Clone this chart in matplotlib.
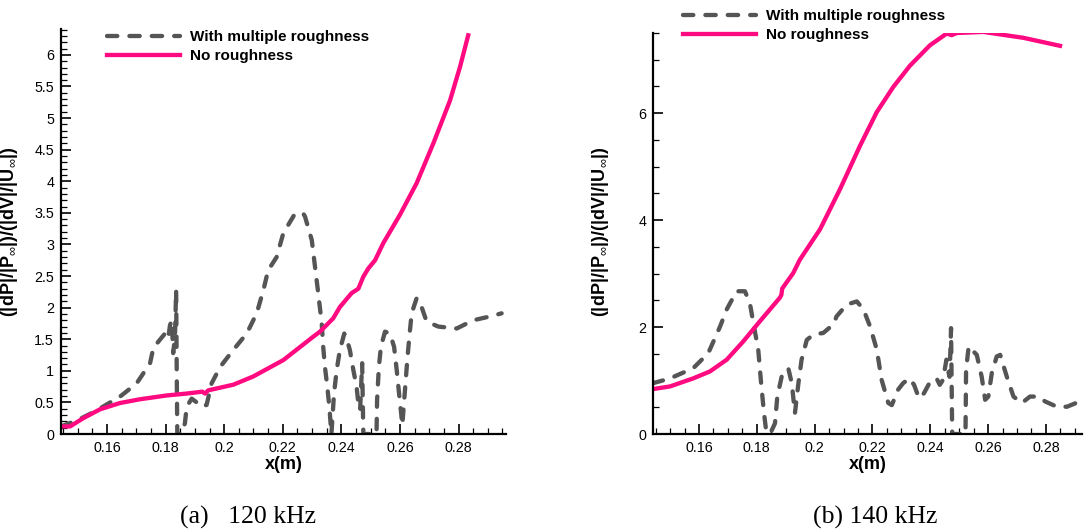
import matplotlib
matplotlib.use("Agg")
import matplotlib.pyplot as plt
from matplotlib.ticker import MultipleLocator, FormatStrFormatter

plt.rcParams['font.family'] = ['Liberation Sans', 'DejaVu Sans']
plt.rcParams['mathtext.fontset'] = 'custom'
plt.rcParams['mathtext.rm'] = 'Liberation Sans'
plt.rcParams['mathtext.bf'] = 'Liberation Sans:bold'

# ---------------- data: (a) 120 kHz ----------------
a_rough_x = [0.1443, 0.1500, 0.1560, 0.1600, 0.1644, 0.1701, 0.1747, 0.1758, 0.1775,
             0.1798, 0.1809, 0.1815, 0.1821, 0.1826, 0.1832, 0.1836, 0.1838, 0.1840,
             0.1855, 0.1866, 0.1872, 0.1889, 0.1912, 0.1923, 0.1940, 0.1957, 0.1986,
             0.2031, 0.2077, 0.2111, 0.2134, 0.2150, 0.2179, 0.2202, 0.2242, 0.2270,
             0.2276, 0.2299, 0.2310, 0.2321, 0.2333, 0.2338, 0.2344, 0.2352, 0.2359,
             0.2364, 0.2366, 0.2375, 0.2384, 0.2395, 0.2410, 0.2418, 0.2429, 0.2441,
             0.2452, 0.2458, 0.2464, 0.2471, 0.2475, 0.2520, 0.2522, 0.2528, 0.2535,
             0.2549, 0.2566, 0.2580, 0.2589, 0.2597, 0.2604, 0.2608, 0.2625, 0.2632,
             0.2640, 0.2657, 0.2674, 0.2691, 0.2731, 0.2794, 0.2850, 0.2907, 0.2947]
a_rough_y = [0.12, 0.22, 0.36, 0.47, 0.59, 0.80, 1.12, 1.36, 1.46,
             1.59, 1.51, 1.72, 1.80, 1.28, 1.54, 2.28, 1.01, 0.00,
             0.00, 0.17, 0.43, 0.56, 0.48, 0.43, 0.46, 0.80, 1.06,
             1.33, 1.59, 1.91, 2.28, 2.59, 2.80, 3.18, 3.49, 3.49,
             3.44, 3.07, 2.65, 2.23, 1.75, 1.38, 1.06, 0.75, 0.43,
             0.12, 0.00, 0.64, 1.01, 1.33, 1.59, 1.51, 1.33, 1.01,
             0.75, 0.48, 0.38, 1.12, 0.00, 0.00, 0.54, 1.06, 1.38,
             1.62, 1.59, 1.38, 1.01, 0.64, 0.33, 0.14, 1.17, 1.54,
             1.91, 2.15, 2.01, 1.78, 1.70, 1.67, 1.80, 1.86, 1.91]

a_smooth_x = [0.1443, 0.1474, 0.1519, 0.1576, 0.1644, 0.1713, 0.1804, 0.1872, 0.1925,
              0.1935, 0.1945, 0.2031, 0.2099, 0.2202, 0.2304, 0.2327, 0.2372, 0.2395,
              0.2435, 0.2458, 0.2475, 0.2492, 0.2515, 0.2543, 0.2600, 0.2657, 0.2714,
              0.2771, 0.2805, 0.2833]
a_smooth_y = [0.12, 0.12, 0.25, 0.39, 0.49, 0.55, 0.61, 0.64, 0.67,
              0.64, 0.69, 0.78, 0.91, 1.17, 1.54, 1.62, 1.83, 2.01,
              2.23, 2.30, 2.49, 2.62, 2.75, 3.02, 3.47, 3.97, 4.60,
              5.28, 5.81, 6.31]

# ---------------- data: (b) 140 kHz ----------------
b_rough_x = [0.1441, 0.1500, 0.1580, 0.1632, 0.1673, 0.1696, 0.1730, 0.1759, 0.1776,
             0.1788, 0.1805, 0.1815, 0.1825, 0.1832, 0.1846, 0.1863, 0.1871, 0.1886,
             0.1909, 0.1921, 0.1932, 0.1944, 0.1955, 0.1973, 0.1996, 0.2030, 0.2065,
             0.2076, 0.2111, 0.2146, 0.2169, 0.2192, 0.2215, 0.2232, 0.2255, 0.2267,
             0.2289, 0.2306, 0.2328, 0.2344, 0.2361, 0.2378, 0.2400, 0.2422, 0.2433,
             0.2444, 0.2456, 0.2461, 0.2467, 0.2472, 0.2476, 0.2522, 0.2524, 0.2533,
             0.2561, 0.2578, 0.2590, 0.2601, 0.2613, 0.2630, 0.2642, 0.2665, 0.2688,
             0.2717, 0.2745, 0.2775, 0.2797, 0.2838, 0.2873, 0.2918, 0.2940]
b_rough_y = [0.95, 1.04, 1.23, 1.51, 2.01, 2.33, 2.67, 2.67, 2.45,
             2.08, 1.58, 0.95, 0.39, 0.08, 0.00, 0.20, 0.70, 1.07,
             1.23, 0.95, 0.39, 0.95, 1.39, 1.76, 1.86, 1.89, 2.05,
             2.20, 2.42, 2.48, 2.33, 2.01, 1.58, 1.01, 0.58, 0.54,
             0.83, 0.95, 1.04, 0.92, 0.67, 0.76, 0.98, 1.04, 0.92,
             1.01, 1.39, 1.20, 1.07, 1.98, 0.00, 0.00, 1.20, 1.64,
             1.48, 1.07, 0.64, 0.70, 1.14, 1.45, 1.48, 1.07, 0.70,
             0.58, 0.70, 0.70, 0.61, 0.51, 0.51, 0.61, 0.66]

b_smooth_x = [0.1441, 0.1500, 0.1580, 0.1638, 0.1696, 0.1753, 0.1811, 0.1880, 0.1885,
              0.1888, 0.1926, 0.1949, 0.2019, 0.2088, 0.2157, 0.2215, 0.2272, 0.2330,
              0.2399, 0.2457, 0.2474, 0.2492, 0.2584, 0.2722, 0.2849]
b_smooth_y = [0.84, 0.89, 1.04, 1.17, 1.39, 1.73, 2.11, 2.55, 2.60,
              2.72, 3.01, 3.26, 3.83, 4.58, 5.39, 6.02, 6.49, 6.89,
              7.27, 7.49, 7.46, 7.50, 7.52, 7.41, 7.26]

labels = ["With multiple roughness", "No roughness"]
captions = ["(a)   120 kHz", "(b) 140 kHz"]

GRAY = '#555555'
PINK = '#ff0a80'

W, H = 1089, 531
fig = plt.figure(figsize=(W / 100, H / 100), dpi=100)

def fx(p):
    return p / W

def fy(p):
    return 1 - p / H

axA = fig.add_axes([fx(61), fy(434), fx(506 - 61), (434 - 29) / H])
axB = fig.add_axes([fx(653), fy(434), fx(1082 - 653), (434 - 33) / H])

ylabel = (r'$\mathbf{(|dP|/|P}_{\infty}\mathbf{|)/(|dV|/|U}_{\infty}\mathbf{|)}$')

for ax, rx, ry, sx, sy in [(axA, a_rough_x, a_rough_y, a_smooth_x, a_smooth_y),
                           (axB, b_rough_x, b_rough_y, b_smooth_x, b_smooth_y)]:
    ax.plot(rx, ry, color=GRAY, lw=3.1, linestyle=(0, (2.4, 2.8)),
            dash_capstyle='round', label=labels[0])
    ax.plot(sx, sy, color=PINK, lw=3.1, solid_joinstyle='round', label=labels[1])
    for s in ['top', 'right']:
        ax.spines[s].set_visible(False)
    for s in ['left', 'bottom']:
        ax.spines[s].set_linewidth(1.6)
    ax.tick_params(which='major', direction='in', length=7.5, width=1.2,
                   labelsize=10.3, pad=5)
    ax.tick_params(which='minor', direction='in', length=4, width=0.9)
    ax.xaxis.set_major_locator(MultipleLocator(0.02))
    ax.xaxis.set_minor_locator(MultipleLocator(0.005))
    ax.xaxis.set_major_formatter(FormatStrFormatter('%g'))
    ax.yaxis.set_major_formatter(FormatStrFormatter('%g'))
    ax.set_xlabel('x(m)', fontsize=13, fontweight='bold', labelpad=1)
    ax.set_ylabel(ylabel, fontsize=13)

axA.set_xlim(0.1443, 0.2962)
axA.set_ylim(0, 6.41)
axA.yaxis.set_major_locator(MultipleLocator(0.5))
axA.yaxis.set_minor_locator(MultipleLocator(0.1))

axB.set_xlim(0.1441, 0.2925)
axB.set_ylim(0, 7.5)
axB.yaxis.set_major_locator(MultipleLocator(2))
axB.yaxis.set_minor_locator(MultipleLocator(0.5))

axA.yaxis.set_label_coords(fx(20), 1 - 232 / H, transform=fig.transFigure)
axB.yaxis.set_label_coords(fx(611), 1 - 232 / H, transform=fig.transFigure)

legkw = dict(frameon=False, loc='upper left', borderpad=0, borderaxespad=0,
             handlelength=4.8, handletextpad=0.65, labelspacing=0.32,
             prop={'family': 'Liberation Sans', 'weight': 'bold', 'size': 11})
axA.legend(bbox_to_anchor=(fx(107), fy(30)), bbox_transform=fig.transFigure, **legkw)
axB.legend(bbox_to_anchor=(fx(683), fy(9)), bbox_transform=fig.transFigure, **legkw)

fig.text(fx(248), fy(517), captions[0], ha='center', va='center',
         family='Liberation Serif', fontsize=18.5)
fig.text(fx(875), fy(517), captions[1], ha='center', va='center',
         family='Liberation Serif', fontsize=18.5)

fig.savefig('out.png', dpi=100)
